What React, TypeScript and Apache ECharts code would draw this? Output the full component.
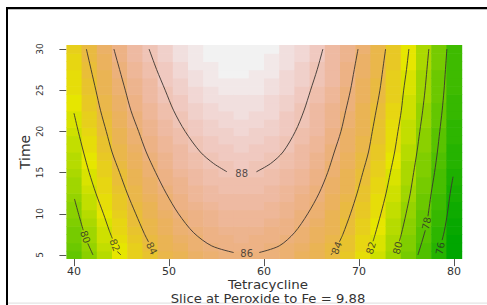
import React, { useEffect, useRef } from "react";
import * as echarts from "echarts";

// Grid of the response surface (Tetracycline x Time)
const xGrid = [40, 41.6, 43.2, 44.8, 46.4, 48, 49.6, 51.2, 52.8, 54.4, 56, 57.6, 59.2, 60.8, 62.4, 64, 65.6, 67.2, 68.8, 70.4, 72, 73.6, 75.2, 76.8, 78.4, 80];
const yGrid = [5, 6, 7, 8, 9, 10, 11, 12, 13, 14, 15, 16, 17, 18, 19, 20, 21, 22, 23, 24, 25, 26, 27, 28, 29, 30];

// Estimated response values, one column per Tetracycline value (Time 5..30)
const zByColumn = [
  [78.3, 78.5, 78.8, 79.0, 79.2, 79.4, 79.6, 79.9, 80.1, 80.3, 80.5, 80.7, 80.9, 81.0, 81.2, 81.4, 81.6, 81.7, 81.9, 82.1, 82.2, 82.4, 82.5, 82.7, 82.8, 83.0],
  [79.6, 79.8, 80.1, 80.3, 80.5, 80.7, 81.0, 81.2, 81.4, 81.6, 81.8, 82.0, 82.1, 82.3, 82.5, 82.7, 82.9, 83.0, 83.2, 83.4, 83.5, 83.7, 83.8, 84.0, 84.1, 84.2],
  [80.8, 81.1, 81.3, 81.5, 81.7, 81.9, 82.2, 82.4, 82.6, 82.8, 83.0, 83.1, 83.3, 83.5, 83.7, 83.9, 84.0, 84.2, 84.4, 84.5, 84.7, 84.8, 85.0, 85.1, 85.2, 85.4],
  [81.9, 82.1, 82.4, 82.6, 82.8, 83.0, 83.2, 83.4, 83.6, 83.8, 84.0, 84.2, 84.4, 84.6, 84.7, 84.9, 85.1, 85.2, 85.4, 85.5, 85.7, 85.8, 86.0, 86.1, 86.3, 86.4],
  [82.9, 83.1, 83.3, 83.5, 83.8, 84.0, 84.2, 84.4, 84.6, 84.8, 84.9, 85.1, 85.3, 85.5, 85.7, 85.8, 86.0, 86.1, 86.3, 86.5, 86.6, 86.7, 86.9, 87.0, 87.2, 87.3],
  [83.7, 83.9, 84.2, 84.4, 84.6, 84.8, 85.0, 85.2, 85.4, 85.6, 85.8, 85.9, 86.1, 86.3, 86.5, 86.6, 86.8, 86.9, 87.1, 87.2, 87.4, 87.5, 87.7, 87.8, 87.9, 88.0],
  [84.4, 84.7, 84.9, 85.1, 85.3, 85.5, 85.7, 85.9, 86.1, 86.3, 86.4, 86.6, 86.8, 87.0, 87.1, 87.3, 87.5, 87.6, 87.8, 87.9, 88.0, 88.2, 88.3, 88.4, 88.6, 88.7],
  [85.0, 85.2, 85.5, 85.7, 85.9, 86.1, 86.3, 86.4, 86.6, 86.8, 87.0, 87.2, 87.3, 87.5, 87.7, 87.8, 88.0, 88.1, 88.3, 88.4, 88.6, 88.7, 88.8, 89.0, 89.1, 89.2],
  [85.5, 85.7, 85.9, 86.1, 86.3, 86.5, 86.7, 86.9, 87.1, 87.3, 87.4, 87.6, 87.8, 87.9, 88.1, 88.3, 88.4, 88.6, 88.7, 88.8, 89.0, 89.1, 89.2, 89.4, 89.5, 89.6],
  [85.8, 86.0, 86.3, 86.5, 86.6, 86.8, 87.0, 87.2, 87.4, 87.6, 87.7, 87.9, 88.1, 88.2, 88.4, 88.6, 88.7, 88.8, 89.0, 89.1, 89.3, 89.4, 89.5, 89.6, 89.7, 89.9],
  [86.1, 86.3, 86.5, 86.7, 86.9, 87.0, 87.2, 87.4, 87.6, 87.8, 87.9, 88.1, 88.3, 88.4, 88.6, 88.7, 88.9, 89.0, 89.2, 89.3, 89.4, 89.5, 89.7, 89.8, 89.9, 90.0],
  [86.2, 86.4, 86.6, 86.8, 86.9, 87.1, 87.3, 87.5, 87.7, 87.8, 88.0, 88.2, 88.3, 88.5, 88.6, 88.8, 88.9, 89.1, 89.2, 89.3, 89.5, 89.6, 89.7, 89.8, 89.9, 90.0],
  [86.1, 86.3, 86.5, 86.7, 86.9, 87.1, 87.3, 87.4, 87.6, 87.8, 87.9, 88.1, 88.3, 88.4, 88.6, 88.7, 88.8, 89.0, 89.1, 89.2, 89.4, 89.5, 89.6, 89.7, 89.8, 89.9],
  [86.0, 86.2, 86.4, 86.5, 86.7, 86.9, 87.1, 87.3, 87.4, 87.6, 87.8, 87.9, 88.1, 88.2, 88.4, 88.5, 88.6, 88.8, 88.9, 89.0, 89.2, 89.3, 89.4, 89.5, 89.6, 89.7],
  [85.7, 85.9, 86.1, 86.3, 86.4, 86.6, 86.8, 87.0, 87.1, 87.3, 87.5, 87.6, 87.8, 87.9, 88.0, 88.2, 88.3, 88.4, 88.6, 88.7, 88.8, 88.9, 89.0, 89.1, 89.2, 89.3],
  [85.3, 85.5, 85.7, 85.8, 86.0, 86.2, 86.4, 86.5, 86.7, 86.9, 87.0, 87.2, 87.3, 87.5, 87.6, 87.7, 87.9, 88.0, 88.1, 88.2, 88.4, 88.5, 88.6, 88.7, 88.8, 88.9],
  [84.8, 84.9, 85.1, 85.3, 85.5, 85.7, 85.8, 86.0, 86.2, 86.3, 86.5, 86.6, 86.8, 86.9, 87.0, 87.2, 87.3, 87.4, 87.5, 87.7, 87.8, 87.9, 88.0, 88.1, 88.2, 88.3],
  [84.1, 84.3, 84.5, 84.7, 84.8, 85.0, 85.2, 85.3, 85.5, 85.6, 85.8, 85.9, 86.1, 86.2, 86.3, 86.5, 86.6, 86.7, 86.8, 86.9, 87.1, 87.2, 87.3, 87.4, 87.5, 87.5],
  [83.3, 83.5, 83.7, 83.8, 84.0, 84.2, 84.3, 84.5, 84.7, 84.8, 85.0, 85.1, 85.2, 85.4, 85.5, 85.6, 85.7, 85.9, 86.0, 86.1, 86.2, 86.3, 86.4, 86.5, 86.6, 86.7],
  [82.4, 82.6, 82.8, 83.0, 83.1, 83.3, 83.4, 83.6, 83.7, 83.9, 84.0, 84.2, 84.3, 84.4, 84.6, 84.7, 84.8, 84.9, 85.0, 85.1, 85.3, 85.3, 85.4, 85.5, 85.6, 85.7],
  [81.4, 81.6, 81.7, 81.9, 82.1, 82.2, 82.4, 82.5, 82.7, 82.8, 83.0, 83.1, 83.3, 83.4, 83.5, 83.6, 83.7, 83.9, 84.0, 84.1, 84.2, 84.3, 84.4, 84.4, 84.5, 84.6],
  [80.2, 80.4, 80.6, 80.8, 80.9, 81.1, 81.2, 81.4, 81.5, 81.7, 81.8, 81.9, 82.1, 82.2, 82.3, 82.4, 82.5, 82.7, 82.8, 82.9, 83.0, 83.0, 83.1, 83.2, 83.3, 83.4],
  [79.0, 79.1, 79.3, 79.5, 79.6, 79.8, 79.9, 80.1, 80.2, 80.4, 80.5, 80.6, 80.8, 80.9, 81.0, 81.1, 81.2, 81.3, 81.4, 81.5, 81.6, 81.7, 81.8, 81.9, 82.0, 82.0],
  [77.6, 77.7, 77.9, 78.1, 78.2, 78.4, 78.5, 78.7, 78.8, 78.9, 79.1, 79.2, 79.3, 79.4, 79.5, 79.7, 79.8, 79.9, 80.0, 80.1, 80.2, 80.2, 80.3, 80.4, 80.5, 80.6],
  [76.0, 76.2, 76.4, 76.5, 76.7, 76.8, 77.0, 77.1, 77.3, 77.4, 77.5, 77.6, 77.8, 77.9, 78.0, 78.1, 78.2, 78.3, 78.4, 78.5, 78.6, 78.7, 78.7, 78.8, 78.9, 79.0],
  [74.4, 74.6, 74.7, 74.9, 75.0, 75.2, 75.3, 75.4, 75.6, 75.7, 75.8, 76.0, 76.1, 76.2, 76.3, 76.4, 76.5, 76.6, 76.7, 76.8, 76.9, 77.0, 77.0, 77.1, 77.2, 77.2],
];

// Tick values
const xTickValues = [40, 50, 60, 70, 80];
const yTickValues = [5, 10, 15, 20, 25, 30];

// Contour lines, each as segments broken at labels
const contour88 = [
  [[47.9, 30], [48.7, 27.5], [49.6, 25], [50.5, 22.5], [51.7, 20], [53.3, 17.5], [54.7, 16.1], [56.1, 15.1]],
  [[59.2, 15.1], [60.7, 16.1], [62.0, 17.5], [63.3, 20], [64.2, 22.5], [64.9, 25], [65.6, 27.5], [66.2, 30]],
];
const contour86 = [
  [[44.2, 30], [44.8, 27.5], [45.4, 25], [46.0, 22.5], [46.8, 20], [47.6, 17.5], [48.6, 15], [49.7, 12.5], [51.0, 10], [52.6, 7.7], [54.5, 6.1], [56.8, 5.3]],
  [[59.5, 5.3], [61.6, 6.1], [63.2, 7.7], [64.6, 10], [65.8, 12.5], [66.7, 15], [67.4, 17.5], [68.1, 20], [68.6, 22.5], [69.1, 25], [69.5, 27.5], [69.9, 30]],
];
const contour84 = [
  [[41.3, 30], [41.8, 27.5], [42.3, 25], [42.8, 22.5], [43.4, 20], [44.0, 17.5], [44.8, 15], [45.6, 12.5], [46.5, 10], [47.4, 7.6], [47.85, 6.57]],
  [[67.94, 6.6], [68.3, 7.5], [69.1, 10], [69.8, 12.5], [70.4, 15], [71.0, 17.5], [71.4, 20], [71.8, 22.5], [72.2, 25], [72.5, 27.5], [72.8, 30]],
  [[67.05, 5.0], [67.2, 5.25]],
];
const contour82 = [
  [[40.0, 22.2], [40.45, 20], [41.0, 17.5], [41.6, 15], [42.3, 12.5], [43.1, 10], [43.7, 8.0], [44.04, 7.0]],
  [[44.56, 5.41], [44.95, 5.0]],
  [[71.48, 6.66], [71.7, 7.5], [72.3, 10], [72.85, 12.5], [73.3, 15], [73.75, 17.5], [74.1, 20], [74.45, 22.5], [74.7, 25], [75.0, 27.5], [75.25, 30]],
];
const contour80 = [
  [[40.05, 11.8], [40.5, 9.9], [40.97, 8.0]],
  [[41.45, 6.4], [42.0, 5.0]],
  [[74.25, 6.67], [74.45, 7.5], [74.95, 10], [75.4, 12.5], [75.75, 15], [76.1, 17.5], [76.4, 20], [76.7, 22.5], [76.95, 25], [77.15, 27.5], [77.35, 30]],
];
const contour78 = [
  [[77.26, 9.7], [77.6, 12.5], [77.95, 15], [78.25, 17.5], [78.5, 20], [78.75, 22.5], [78.95, 25], [79.1, 27.5], [79.25, 30]],
  [[76.98, 8.0], [76.6, 6.5], [76.2, 5.0]],
];
const contour76 = [
  [[79.9, 14.5], [79.6, 12.5], [79.3, 10], [79.0, 8.0], [78.75, 6.8]],
];

// Contour labels
const labelLevels = [88, 86, 84, 84, 82, 82, 80, 80, 78, 76];
const labelX = [57.65, 58.18, 48.18, 67.65, 44.3, 71.26, 41.2, 74.07, 77.12, 78.55];
const labelY = [14.95, 5.2, 5.81, 5.85, 6.2, 5.85, 7.2, 5.85, 8.85, 5.8];
const labelAngle = [0, 0, -63, 67, -69, 73, -72, 76, 79, 80];

// Axis titles
const xTitle = "Tetracycline";
const xSubtitle = "Slice at Peroxide to Fe = 9.88";
const yTitle = "Time";

// R terrain.colors(n)
function hsvHex(h: number, s: number, v: number) {
  const i = Math.floor(h * 6 + 1e-9);
  const f = h * 6 - i;
  const p = v * (1 - s);
  const q = v * (1 - f * s);
  const t = v * (1 - (1 - f) * s);
  let r = 0, g = 0, b = 0;
  switch (((i % 6) + 6) % 6) {
    case 0: r = v; g = t; b = p; break;
    case 1: r = q; g = v; b = p; break;
    case 2: r = p; g = v; b = t; break;
    case 3: r = p; g = q; b = v; break;
    case 4: r = t; g = p; b = v; break;
    default: r = v; g = p; b = q;
  }
  const hx = (c: number) => Math.round(c * 255).toString(16).padStart(2, "0");
  return "#" + hx(r) + hx(g) + hx(b);
}
function seq(a: number, b: number, n: number) {
  if (n === 1) return [a];
  return Array.from({ length: n }, (_, i) => a + ((b - a) * i) / (n - 1));
}
function terrainColors(n: number) {
  const k = Math.floor(n / 2);
  const out: string[] = [];
  const h1 = seq(4 / 12, 2 / 12, k), s1 = seq(1, 1, k), v1 = seq(0.65, 0.9, k);
  for (let i = 0; i < k; i++) out.push(hsvHex(h1[i], s1[i], v1[i]));
  const m = n - k + 1;
  const h2 = seq(2 / 12, 0, m), s2 = seq(1, 0, m), v2 = seq(0.9, 0.95, m);
  for (let i = 1; i < m; i++) out.push(hsvHex(h2[i], s2[i], v2[i]));
  return out;
}

export default function App() {
  const ref = useRef<HTMLDivElement>(null);
  useEffect(() => {
    if (!ref.current) return;
    const chart = echarts.init(ref.current, null, { renderer: "svg" });
    const palette = terrainColors(50);
    const allZ = zByColumn.flat();
    const zMin = Math.min(...allZ);
    const zMax = Math.max(...allZ);
    const colorFor = (z: number) => {
      let idx = Math.floor(((z - zMin) / (zMax - zMin)) * palette.length);
      if (idx >= palette.length) idx = palette.length - 1;
      if (idx < 0) idx = 0;
      return palette[idx];
    };
    const halfX = (xGrid[1] - xGrid[0]) / 2;
    const halfY = (yGrid[1] - yGrid[0]) / 2;
    const cells: number[][] = [];
    xGrid.forEach((x, i) => yGrid.forEach((y, j) => cells.push([x, y, zByColumn[i][j]])));

    const lineColor = "#3a3430";
    const contourSeries: any[] = [];
    [contour88, contour86, contour84, contour82, contour80, contour78, contour76].forEach((segs) => {
      segs.forEach((seg) => {
        contourSeries.push({
          type: "line",
          data: seg,
          showSymbol: false,
          symbol: "none",
          smooth: 0.3,
          silent: true,
          z: 3,
          lineStyle: { color: lineColor, width: 0.9 },
        });
      });
    });

    const labelData = labelLevels.map((lv, i) => ({
      value: [labelX[i], labelY[i]],
      label: { show: true, formatter: String(lv), rotate: labelAngle[i] },
    }));

    const textColor = "#333";
    const font = "DejaVu Sans";
    const titleStyle = { fill: textColor, fontSize: 12, fontFamily: font, align: "center", verticalAlign: "middle" };
    const option: any = {
      animation: false,
      backgroundColor: "#ffffff",
      grid: {
        left: 66.4,
        top: 44.9,
        width: 395.2,
        height: 214.2,
        containLabel: false,
        outerBoundsMode: "none",
      },
      xAxis: {
        type: "value",
        min: 39.2,
        max: 80.8,
        axisLine: { show: false },
        splitLine: { show: false },
        axisTick: { show: true, length: 7, customValues: xTickValues, lineStyle: { color: "#555", width: 1 } },
        axisLabel: { customValues: xTickValues, margin: 7, fontSize: 11, color: textColor, fontFamily: font },
      },
      yAxis: {
        type: "value",
        min: 4.5,
        max: 30.5,
        axisLine: { show: false },
        splitLine: { show: false },
        axisTick: { show: true, length: 7, customValues: yTickValues, lineStyle: { color: "#555", width: 1 } },
        axisLabel: { customValues: yTickValues, rotate: 90, margin: 22, fontSize: 9, color: textColor, fontFamily: font },
      },
      graphic: [
        { type: "rect", shape: { x: 6, y: 7, width: 481, height: 2.3 }, style: { fill: "#000" }, silent: true },
        { type: "rect", shape: { x: 6, y: 7, width: 2, height: 298 }, style: { fill: "#000" }, silent: true },
        { type: "rect", shape: { x: 8, y: 302.5, width: 479, height: 1.2 }, style: { fill: "#e4e4e4" }, silent: true },
        { type: "text", x: 268, y: 285, scaleX: 1.12, silent: true, style: { ...titleStyle, text: xTitle } },
        { type: "text", x: 268, y: 298.5, scaleX: 1.1, silent: true, style: { ...titleStyle, text: xSubtitle } },
        {
          type: "text",
          x: 25,
          y: 152,
          rotation: Math.PI / 2,
          silent: true,
          style: { ...titleStyle, fontSize: 14, text: yTitle },
        },
      ],
      series: [
        {
          type: "custom",
          data: cells,
          encode: { x: 0, y: 1 },
          clip: true,
          silent: true,
          z: 1,
          renderItem: (_params: any, api: any) => {
            const x = api.value(0);
            const y = api.value(1);
            const z = api.value(2);
            const p1 = api.coord([x - halfX, y + halfY]);
            const p2 = api.coord([x + halfX, y - halfY]);
            return {
              type: "rect",
              shape: { x: p1[0], y: p1[1], width: p2[0] - p1[0] + 0.6, height: p2[1] - p1[1] + 0.6 },
              style: { fill: colorFor(z) },
            };
          },
        },
        ...contourSeries,
        {
          type: "scatter",
          data: labelData,
          symbolSize: 0,
          silent: true,
          z: 4,
          label: { show: true, position: "inside", fontSize: 10, color: "#2a2a2a", fontFamily: font },
        },
      ],
    };
    chart.setOption(option);
    return () => chart.dispose();
  }, []);
  return (
    <div
      ref={ref}
      style={{ position: "absolute", left: 0, top: 0, width: 487, height: 305, background: "#fff" }}
    />
  );
}
